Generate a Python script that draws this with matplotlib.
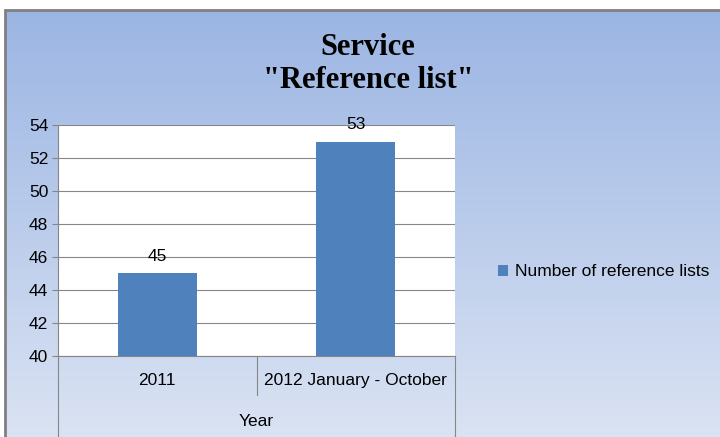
import numpy as np
import matplotlib
matplotlib.use("Agg")
import matplotlib.pyplot as plt
from matplotlib.patches import Rectangle
from matplotlib.colors import LinearSegmentedColormap

categories = ["2011", "2012 January - October"]
values = [45, 53]
series_name = "Number of reference lists"
axis_title = "Year"
title = "Service\n\"Reference list\""
yticks = [40, 42, 44, 46, 48, 50, 52, 54]

W, H = 720, 437
FS = 12.5
fig = plt.figure(figsize=(W / 100, H / 100), dpi=100)
fig.patch.set_facecolor("white")

# gradient background inside the chart frame
bg = fig.add_axes([5 / W, 0, 1 - 5 / W, 1 - 10 / H])
bg.set_axis_off()
cmap = LinearSegmentedColormap.from_list("bg", ["#9bb5e3", "#dae3f3"])
grad = np.linspace(0, 1, 256).reshape(-1, 1)
bg.imshow(grad, aspect="auto", cmap=cmap, extent=[0, 1, 0, 1], origin="upper")
bg.set_xlim(0, 1)
bg.set_ylim(0, 1)
fig.patches.append(Rectangle((5 / W, -0.01), 1, 1 - 10 / H + 0.01, transform=fig.transFigure,
                             fill=False, edgecolor="#808080", linewidth=2))

fig.text(368 / W, 1 - 64 / H, title, ha="center", va="center", family="Liberation Serif",
         fontweight="bold", fontsize=22, linespacing=1.2)

ax = fig.add_axes([58 / W, 1 - 356 / H, (455 - 58) / W, (356 - 125) / H])
ax.set_facecolor("white")
x = np.arange(len(categories))
bars = ax.bar(x, values, width=0.4, color="#4f81bd", label=series_name, zorder=3)
ax.set_xlim(-0.5, len(categories) - 0.5)
ax.set_ylim(40, 54)
ax.set_yticks(yticks)
ax.tick_params(axis="y", labelsize=FS, length=4, color="#868686", pad=3)
for lab in ax.get_yticklabels():
    lab.set_family("Liberation Sans")
ax.set_xticks([])
ax.grid(axis="y", color="#868686", linewidth=0.8, zorder=0)
for s in ["top", "right"]:
    ax.spines[s].set_visible(False)
ax.spines["left"].set_color("#868686")
ax.spines["bottom"].set_color("#868686")

for b, v in zip(bars, values):
    ax.text(b.get_x() + b.get_width() / 2, v + 0.55, str(v), ha="center", va="bottom",
            fontsize=FS, family="Liberation Sans")

# multi-level category axis
tr = ax.get_xaxis_transform()
ax.plot([-0.5, -0.5], [0, -0.36], color="#868686", lw=0.8, transform=tr, clip_on=False)
ax.plot([1.5, 1.5], [0, -0.36], color="#868686", lw=0.8, transform=tr, clip_on=False)
ax.plot([0.5, 0.5], [0, -0.17], color="#868686", lw=0.8, transform=tr, clip_on=False)
for xi, c in zip(x, categories):
    ax.text(xi, -0.105, c, transform=tr, ha="center", va="center", fontsize=FS,
            family="Liberation Sans")
ax.text(0.5, -0.285, axis_title, transform=tr, ha="center", va="center", fontsize=FS,
        family="Liberation Sans")

leg = fig.legend(handles=[bars], labels=[series_name], loc="center left",
                 bbox_to_anchor=(482 / W, 1 - 272 / H), frameon=False,
                 prop={"family": "Liberation Sans", "size": FS},
                 handlelength=0.6, handleheight=0.6, handletextpad=0.4)

fig.savefig("out.png", dpi=100)
